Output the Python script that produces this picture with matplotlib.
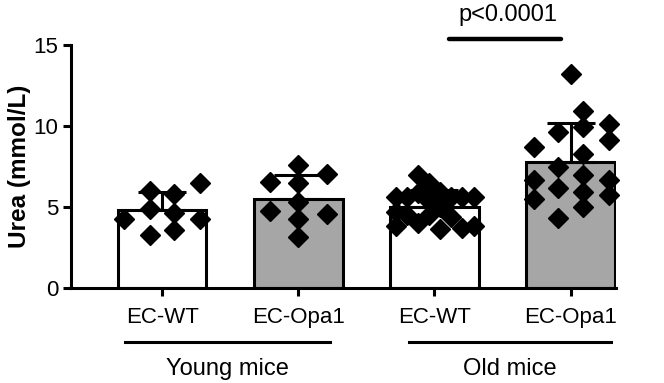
import matplotlib.pyplot as plt
import numpy as np

plt.rcParams['font.family'] = ['Liberation Sans', 'DejaVu Sans']

groups = ['EC-WT', 'EC-Opa1', 'EC-WT', 'EC-Opa1']
means = [4.8, 5.5, 5.0, 7.8]
sds = [1.1, 1.5, 1.05, 2.4]
fills = ['white', '#a6a6a6', 'white', '#a6a6a6']

# individual animals (value, horizontal offset within the bar)
young_wt = [6.0, 5.8, 6.5, 4.9, 4.6, 4.25, 4.25, 3.3, 3.6]
young_wt_dx = [-0.09, 0.09, 0.28, -0.09, 0.09, -0.28, 0.28, -0.09, 0.09]
young_opa = [7.6, 6.55, 7.05, 6.5, 5.3, 4.75, 4.55, 4.25, 3.15]
young_opa_dx = [0.0, -0.21, 0.21, 0.0, 0.0, -0.21, 0.21, 0.0, 0.0]
old_wt = [7.0, 6.5, 5.6, 5.6, 5.6, 5.6, 5.6, 5.85, 5.9, 5.4, 5.0, 4.7,
          4.5, 4.5, 4.4, 4.0, 3.65, 3.8, 3.7, 3.8]
old_wt_dx = [-0.12, -0.04, -0.28, -0.2, 0.12, 0.2, 0.29, -0.12, 0.04, -0.04,
             0.04, -0.28, -0.2, -0.04, 0.12, -0.12, 0.04, -0.28, 0.2, 0.29]
old_opa = [13.2, 10.9, 9.95, 10.1, 9.65, 9.15, 8.7, 8.25, 7.5, 6.65, 6.95,
           6.65, 6.2, 5.95, 5.5, 5.75, 5.0, 4.3]
old_opa_dx = [0.0, 0.09, 0.09, 0.28, -0.09, 0.28, -0.27, 0.09, -0.09, -0.27,
              0.09, 0.28, -0.09, 0.09, -0.27, 0.28, 0.09, -0.09]

points = [young_wt, young_opa, old_wt, old_opa]
offsets = [young_wt_dx, young_opa_dx, old_wt_dx, old_opa_dx]

fig = plt.figure(figsize=(6.64, 3.83), dpi=100)
ax = fig.add_axes([0.107, 0.248, 0.821, 0.6345])

x = np.arange(len(groups))
ax.bar(x, means, width=0.65, color=fills, edgecolor='black', linewidth=2.2, zorder=2)
ax.errorbar(x, means, yerr=[np.zeros(len(sds)), sds], fmt='none', ecolor='black',
            elinewidth=2.2, capsize=17, capthick=2.2, zorder=3)
for xi, vals, dx in zip(x, points, offsets):
    ax.plot(xi + np.array(dx), vals, 'D', color='black', markersize=10,
            linestyle='none', zorder=4, clip_on=False)

ax.set_xlim(-0.67, 3.335)
ax.set_ylim(0, 15)
ax.set_yticks([0, 5, 10, 15])
ax.set_xticks(x)
ax.set_xticklabels(groups)
ax.tick_params(axis='both', width=2.2, length=6, labelsize=16, pad=3)
ax.tick_params(axis='x', pad=8)
for side in ['top', 'right']:
    ax.spines[side].set_visible(False)
for side in ['left', 'bottom']:
    ax.spines[side].set_linewidth(2.2)
ax.set_ylabel('Urea (mmol/L)', fontsize=17.5, fontweight='bold', labelpad=2)

# group brackets under the axis
for x0, x1, name in [(-0.27, 1.23, 'Young mice'), (1.81, 3.3, 'Old mice')]:
    ax.plot([x0, x1], [-3.33, -3.33], color='black', linewidth=2.2, clip_on=False)
    ax.text((x0 + x1) / 2, -4.35, name, ha='center', va='top', fontsize=17,
            clip_on=False)

# significance bar
ax.plot([2.11, 2.93], [15.37, 15.37], color='black', linewidth=3.2,
        solid_capstyle='round', clip_on=False)
ax.text(2.54, 16.5, 'p<0.0001', ha='center', va='baseline', fontsize=17)

fig.savefig('out.png', dpi=100)
